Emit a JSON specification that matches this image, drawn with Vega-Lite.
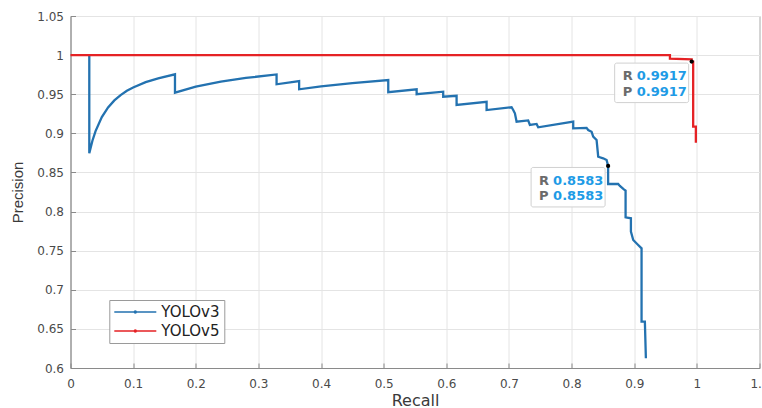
{
  "$schema": "https://vega.github.io/schema/vega-lite/v6.json",
  "width": 689,
  "height": 352,
  "autosize": {"type": "none"},
  "padding": {"left": 70.5, "top": 16, "right": 2.5, "bottom": 40},
  "background": "white",
  "config": {
    "view": {"stroke": "#8a8a8a", "strokeWidth": 1},
    "font": "DejaVu Sans",
    "axis": {
      "grid": true,
      "gridColor": "#e4e4e4",
      "gridWidth": 1,
      "domainColor": "#8a8a8a",
      "tickColor": "#8a8a8a",
      "tickSize": -5,
      "labelFont": "DejaVu Sans",
      "labelFontSize": 12,
      "labelColor": "#4a4a4a",
      "labelOverlap": false,
      "titleColor": "#3a3a3a",
      "titleFontWeight": "normal"
    },
    "legend": {
      "orient": "none",
      "legendX": 38.8,
      "legendY": 284,
      "strokeColor": "#9a9a9a",
      "fillColor": "white",
      "padding": 4,
      "rowPadding": 3,
      "symbolType": "M-1,0H5M1.85,0a0.15,0.15 0 1,0 0.3,0a0.15,0.15 0 1,0 -0.3,0",
      "symbolSize": 196,
      "symbolStrokeWidth": 1.4,
      "labelFont": "DejaVu Sans",
      "labelFontSize": 15,
      "labelColor": "#222222",
      "labelOffset": 32
    }
  },
  "datasets": {
    "curves": [
      {"Model": "YOLOv3", "Recall": 0.030, "Precision": 1.0},
      {"Model": "YOLOv3", "Recall": 0.030, "Precision": 0.8745},
      {"Model": "YOLOv3", "Recall": 0.035, "Precision": 0.8905},
      {"Model": "YOLOv3", "Recall": 0.040, "Precision": 0.9028},
      {"Model": "YOLOv3", "Recall": 0.050, "Precision": 0.9207},
      {"Model": "YOLOv3", "Recall": 0.060, "Precision": 0.9331},
      {"Model": "YOLOv3", "Recall": 0.070, "Precision": 0.9421},
      {"Model": "YOLOv3", "Recall": 0.080, "Precision": 0.9489},
      {"Model": "YOLOv3", "Recall": 0.090, "Precision": 0.9544},
      {"Model": "YOLOv3", "Recall": 0.100, "Precision": 0.9587},
      {"Model": "YOLOv3", "Recall": 0.120, "Precision": 0.9654},
      {"Model": "YOLOv3", "Recall": 0.140, "Precision": 0.9702},
      {"Model": "YOLOv3", "Recall": 0.1668, "Precision": 0.9755},
      {"Model": "YOLOv3", "Recall": 0.1668, "Precision": 0.952},
      {"Model": "YOLOv3", "Recall": 0.200, "Precision": 0.9596},
      {"Model": "YOLOv3", "Recall": 0.240, "Precision": 0.9661},
      {"Model": "YOLOv3", "Recall": 0.280, "Precision": 0.9708},
      {"Model": "YOLOv3", "Recall": 0.329, "Precision": 0.9753},
      {"Model": "YOLOv3", "Recall": 0.329, "Precision": 0.9627},
      {"Model": "YOLOv3", "Recall": 0.365, "Precision": 0.9669},
      {"Model": "YOLOv3", "Recall": 0.365, "Precision": 0.9563},
      {"Model": "YOLOv3", "Recall": 0.400, "Precision": 0.960},
      {"Model": "YOLOv3", "Recall": 0.450, "Precision": 0.9643},
      {"Model": "YOLOv3", "Recall": 0.5073, "Precision": 0.9682},
      {"Model": "YOLOv3", "Recall": 0.5073, "Precision": 0.9526},
      {"Model": "YOLOv3", "Recall": 0.5526, "Precision": 0.9563},
      {"Model": "YOLOv3", "Recall": 0.5526, "Precision": 0.950},
      {"Model": "YOLOv3", "Recall": 0.595, "Precision": 0.9532},
      {"Model": "YOLOv3", "Recall": 0.595, "Precision": 0.9468},
      {"Model": "YOLOv3", "Recall": 0.6164, "Precision": 0.948},
      {"Model": "YOLOv3", "Recall": 0.6164, "Precision": 0.9362},
      {"Model": "YOLOv3", "Recall": 0.6643, "Precision": 0.9404},
      {"Model": "YOLOv3", "Recall": 0.6643, "Precision": 0.9298},
      {"Model": "YOLOv3", "Recall": 0.7042, "Precision": 0.9333},
      {"Model": "YOLOv3", "Recall": 0.7068, "Precision": 0.9298},
      {"Model": "YOLOv3", "Recall": 0.7095, "Precision": 0.9256},
      {"Model": "YOLOv3", "Recall": 0.7122, "Precision": 0.9149},
      {"Model": "YOLOv3", "Recall": 0.7307, "Precision": 0.9165},
      {"Model": "YOLOv3", "Recall": 0.7334, "Precision": 0.9107},
      {"Model": "YOLOv3", "Recall": 0.7441, "Precision": 0.912},
      {"Model": "YOLOv3", "Recall": 0.7467, "Precision": 0.9077},
      {"Model": "YOLOv3", "Recall": 0.8026, "Precision": 0.9149},
      {"Model": "YOLOv3", "Recall": 0.8026, "Precision": 0.9064},
      {"Model": "YOLOv3", "Recall": 0.8239, "Precision": 0.907},
      {"Model": "YOLOv3", "Recall": 0.8265, "Precision": 0.9043},
      {"Model": "YOLOv3", "Recall": 0.8319, "Precision": 0.9021},
      {"Model": "YOLOv3", "Recall": 0.8345, "Precision": 0.8957},
      {"Model": "YOLOv3", "Recall": 0.8399, "Precision": 0.8915},
      {"Model": "YOLOv3", "Recall": 0.8425, "Precision": 0.8701},
      {"Model": "YOLOv3", "Recall": 0.8504, "Precision": 0.8681},
      {"Model": "YOLOv3", "Recall": 0.8559, "Precision": 0.8659},
      {"Model": "YOLOv3", "Recall": 0.8583, "Precision": 0.8583},
      {"Model": "YOLOv3", "Recall": 0.8583, "Precision": 0.8352},
      {"Model": "YOLOv3", "Recall": 0.8744, "Precision": 0.8352},
      {"Model": "YOLOv3", "Recall": 0.8771, "Precision": 0.8327},
      {"Model": "YOLOv3", "Recall": 0.8835, "Precision": 0.8284},
      {"Model": "YOLOv3", "Recall": 0.8862, "Precision": 0.8267},
      {"Model": "YOLOv3", "Recall": 0.8862, "Precision": 0.7926},
      {"Model": "YOLOv3", "Recall": 0.8947, "Precision": 0.7914},
      {"Model": "YOLOv3", "Recall": 0.8947, "Precision": 0.7743},
      {"Model": "YOLOv3", "Recall": 0.8984, "Precision": 0.7636},
      {"Model": "YOLOv3", "Recall": 0.9063, "Precision": 0.7572},
      {"Model": "YOLOv3", "Recall": 0.9117, "Precision": 0.753},
      {"Model": "YOLOv3", "Recall": 0.9117, "Precision": 0.6592},
      {"Model": "YOLOv3", "Recall": 0.917, "Precision": 0.6592},
      {"Model": "YOLOv3", "Recall": 0.9186, "Precision": 0.6124},
      {"Model": "YOLOv5", "Recall": 0.0, "Precision": 1.0},
      {"Model": "YOLOv5", "Recall": 0.957, "Precision": 1.0},
      {"Model": "YOLOv5", "Recall": 0.957, "Precision": 0.9955},
      {"Model": "YOLOv5", "Recall": 0.9917, "Precision": 0.9945},
      {"Model": "YOLOv5", "Recall": 0.9917, "Precision": 0.9917},
      {"Model": "YOLOv5", "Recall": 0.9941, "Precision": 0.9917},
      {"Model": "YOLOv5", "Recall": 0.9941, "Precision": 0.9085},
      {"Model": "YOLOv5", "Recall": 0.9984, "Precision": 0.9085},
      {"Model": "YOLOv5", "Recall": 0.9984, "Precision": 0.888}
    ],
    "tips": [
      {"Model": "YOLOv3", "Recall": 0.8583, "Precision": 0.8583},
      {"Model": "YOLOv5", "Recall": 0.9917, "Precision": 0.9917}
    ]
  },
  "layer": [
    {
      "data": {"name": "curves"},
      "mark": {"type": "line", "strokeWidth": 2.3},
      "encoding": {
        "x": {
          "field": "Recall",
          "type": "quantitative",
          "scale": {"domain": [0, 1.1], "nice": false, "zero": false},
          "axis": {
            "values": [0, 0.1, 0.2, 0.3, 0.4, 0.5, 0.6, 0.7, 0.8, 0.9, 1, 1.1],
            "tickCount": 30,
            "format": "~g",
            "labelFlush": false,
            "labelPadding": 15,
            "title": "Recall",
            "titleFont": "DejaVu Sans",
            "titleFontSize": 16,
            "titlePadding": 3
          }
        },
        "y": {
          "field": "Precision",
          "type": "quantitative",
          "scale": {"domain": [0.6, 1.05], "nice": false, "zero": false},
          "axis": {
            "values": [0.6, 0.65, 0.7, 0.75, 0.8, 0.85, 0.9, 0.95, 1, 1.05],
            "tickCount": 30,
            "format": "~g",
            "labelFlush": false,
            "labelPadding": 12,
            "title": "Precision",
            "titleFont": "Liberation Sans",
            "titleFontSize": 15,
            "titlePadding": 11
          }
        },
        "color": {
          "field": "Model",
          "type": "nominal",
          "scale": {"domain": ["YOLOv3", "YOLOv5"], "range": ["#2372B0", "#E52225"]},
          "legend": {"title": null}
        },
        "order": {"value": null}
      }
    },
    {
      "data": {"name": "tips"},
      "mark": {"type": "rect", "fill": "white", "fillOpacity": 0.92, "stroke": "#d0d0d0", "strokeWidth": 1, "cornerRadius": 2, "xOffset": -77, "x2Offset": -3, "yOffset": 1.5, "y2Offset": 41},
      "encoding": {
        "x": {"field": "Recall", "type": "quantitative"},
        "x2": {"field": "Recall"},
        "y": {"field": "Precision", "type": "quantitative"},
        "y2": {"field": "Precision"}
      }
    },
    {
      "data": {"name": "tips"},
      "mark": {"type": "point", "filled": true, "color": "black", "size": 18, "opacity": 1},
      "encoding": {
        "x": {"field": "Recall", "type": "quantitative"},
        "y": {"field": "Precision", "type": "quantitative"}
      }
    },
    {
      "data": {"name": "tips"},
      "mark": {"type": "text", "text": "R", "align": "left", "baseline": "middle", "dx": -69, "dy": 14.6, "font": "DejaVu Sans", "fontSize": 13, "fontWeight": "bold", "color": "#6b6b6b"},
      "encoding": {
        "x": {"field": "Recall", "type": "quantitative"},
        "y": {"field": "Precision", "type": "quantitative"}
      }
    },
    {
      "data": {"name": "tips"},
      "mark": {"type": "text", "text": "P", "align": "left", "baseline": "middle", "dx": -69, "dy": 30, "font": "DejaVu Sans", "fontSize": 13, "fontWeight": "bold", "color": "#6b6b6b"},
      "encoding": {
        "x": {"field": "Recall", "type": "quantitative"},
        "y": {"field": "Precision", "type": "quantitative"}
      }
    },
    {
      "data": {"name": "tips"},
      "mark": {"type": "text", "align": "left", "baseline": "middle", "dx": -55, "dy": 14.6, "font": "DejaVu Sans", "fontSize": 13, "fontWeight": "bold", "color": "#1E9BE6"},
      "encoding": {
        "x": {"field": "Recall", "type": "quantitative"},
        "y": {"field": "Precision", "type": "quantitative"},
        "text": {"field": "Recall", "type": "quantitative", "format": ".4f"}
      }
    },
    {
      "data": {"name": "tips"},
      "mark": {"type": "text", "align": "left", "baseline": "middle", "dx": -55, "dy": 30, "font": "DejaVu Sans", "fontSize": 13, "fontWeight": "bold", "color": "#1E9BE6"},
      "encoding": {
        "x": {"field": "Recall", "type": "quantitative"},
        "y": {"field": "Precision", "type": "quantitative"},
        "text": {"field": "Precision", "type": "quantitative", "format": ".4f"}
      }
    }
  ]
}
